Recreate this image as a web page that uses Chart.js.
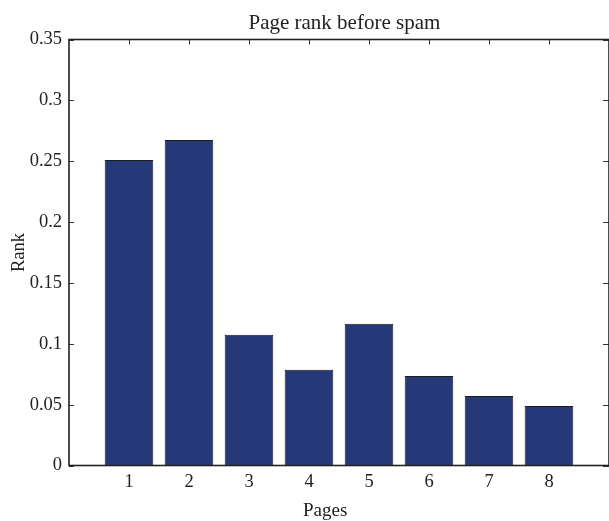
<!DOCTYPE html>
<html>
<head>
<meta charset="utf-8">
<script src="https://cdn.jsdelivr.net/npm/chart.js@4.4.1/dist/chart.umd.min.js"></script>
<style>
  body { margin: 0; background: #fff; }
  #wrap { width: 609px; height: 521px; }
</style>
</head>
<body>
<div id="wrap"><canvas id="rank-chart" width="609" height="521"></canvas></div>
<script>
const pages = [1, 2, 3, 4, 5, 6, 7, 8]
const rank = [0.251, 0.2675, 0.1074, 0.0787, 0.1164, 0.0735, 0.0571, 0.0489]
const yTicks = [0, 0.05, 0.1, 0.15, 0.2, 0.25, 0.3, 0.35]
const title = 'Page rank before spam'
const xTitle = 'Pages'

const serif = 'Liberation Serif'
const ink = '#222'

// frame, inward ticks, title and x label, placed like the matlab figure
const boxPlugin = {
  id: 'box',
  beforeDatasetsDraw(chart) {
    const { ctx, chartArea: a, scales } = chart
    ctx.save()
    ctx.lineWidth = 1
    ctx.strokeStyle = '#333'
    ctx.beginPath()
    yTicks.forEach(v => {
      const y = Math.round(scales.y.getPixelForValue(v)) + 0.5
      ctx.moveTo(a.left, y); ctx.lineTo(a.left + 5, y)
      ctx.moveTo(a.right, y); ctx.lineTo(a.right - 6, y)
    })
    pages.forEach(p => {
      const x = Math.round(scales.x.getPixelForValue(p)) + 0.5
      ctx.moveTo(x, a.top); ctx.lineTo(x, a.top + 5)
      ctx.moveTo(x, a.bottom); ctx.lineTo(x, a.bottom - 5)
    })
    ctx.stroke()
    ctx.restore()
  },
  afterDatasetsDraw(chart) {
    const { ctx, chartArea: a, scales } = chart
    ctx.save()
    ctx.lineWidth = 1.6
    ctx.strokeStyle = ink
    ctx.strokeRect(a.left, a.top, a.right - a.left, a.bottom - a.top)
    ctx.fillStyle = ink
    ctx.textAlign = 'center'
    ctx.textBaseline = 'alphabetic'
    ctx.font = '21px "' + serif + '"'
    ctx.fillText(title, scales.x.getPixelForValue(4.59), 28.5)
    ctx.font = '19px "' + serif + '"'
    ctx.fillText(xTitle, scales.x.getPixelForValue(4.27), 516)
    ctx.restore()
  }
}

const noPad = scale => {
  scale.paddingLeft = 0
  scale.paddingRight = 0
  scale.paddingTop = 0
  scale.paddingBottom = 0
}

const ctx = document.getElementById('rank-chart')

new Chart(ctx, {
  type: 'bar',
  data: {
    datasets: [{
      label: 'Rank',
      data: pages.map((p, i) => ({ x: p, y: rank[i] })),
      backgroundColor: '#253979',
      borderColor: '#1c1c1c',
      borderWidth: 1,
      barPercentage: 0.81,
      categoryPercentage: 1
    }]
  },
  options: {
    responsive: false,
    animation: false,
    devicePixelRatio: 1,
    layout: { padding: { left: 0, right: 0, top: 39.5, bottom: 0 } },
    plugins: {
      legend: { display: false },
      tooltip: { enabled: false },
      title: { display: false }
    },
    scales: {
      x: {
        type: 'linear',
        offset: false,
        min: 0,
        max: 9,
        afterFit: scale => { scale.height = 55.5; noPad(scale) },
        grid: { display: false, drawTicks: false, offset: false },
        border: { display: false },
        ticks: {
          stepSize: 1,
          padding: 6,
          color: ink,
          font: { family: serif, size: 18.5 },
          callback: v => (v >= 1 && v <= 8 ? String(v) : '')
        },
        title: { display: false }
      },
      y: {
        min: 0,
        max: 0.35,
        afterFit: scale => { scale.width = 69; noPad(scale) },
        grid: { display: false, drawTicks: false },
        border: { display: false },
        ticks: {
          stepSize: 0.05,
          padding: 7,
          color: ink,
          font: { family: serif, size: 18.5 },
          callback: v => String(+v.toFixed(2))
        },
        title: {
          display: true,
          text: 'Rank',
          color: ink,
          font: { family: serif, size: 18.5 },
          padding: { top: 8, bottom: 0 }
        }
      }
    }
  },
  plugins: [boxPlugin]
})
</script>
</body>
</html>
